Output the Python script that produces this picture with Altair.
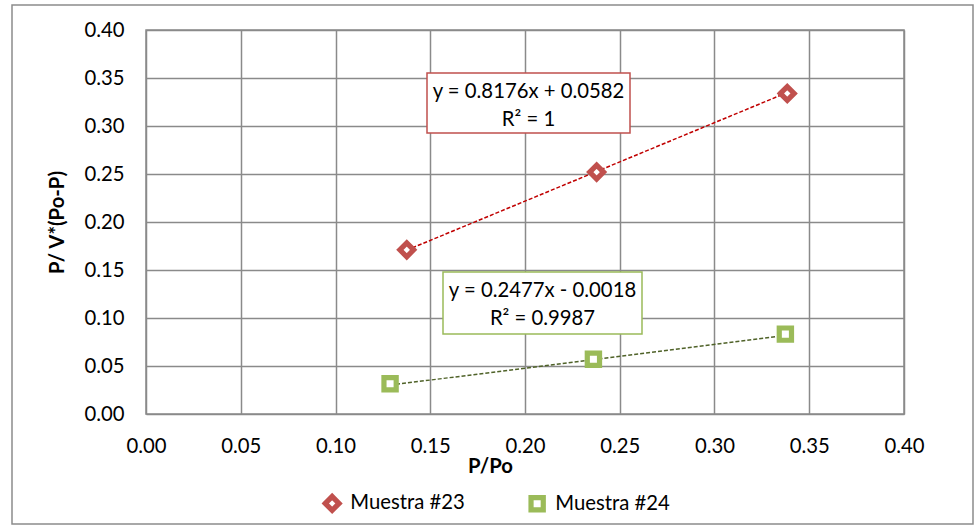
import altair as alt
import pandas as pd

# Measured points (relative pressure vs. BET transform)
series = ["Muestra #23", "Muestra #24"]
pp_23 = [0.1376, 0.2378, 0.3384]
bet_23 = [0.1710, 0.2520, 0.3339]
pp_24 = [0.1288, 0.2361, 0.3374]
bet_24 = [0.0316, 0.0571, 0.0832]

# Linear trendlines (Excel-style)
slopes = [0.8176, 0.2477]
intercepts = [0.0582, -0.0018]
r_squared = [1, 0.9987]

marker_colors = ["#C0504D", "#9BBB59"]
line_colors = ["#C00000", "#4F6228"]
shapes = ["diamond", "square"]
marker_sizes = [190, 150]
tick_values = [0.0, 0.05, 0.10, 0.15, 0.20, 0.25, 0.30, 0.35, 0.40]

FONT = "Lato"
FS = 20.3

points = pd.DataFrame({
    "serie": [series[0]] * len(pp_23) + [series[1]] * len(pp_24),
    "pp": pp_23 + pp_24,
    "bet": bet_23 + bet_24,
})

# Trendline endpoints over each series' x-range, from the fitted coefficients
trend_rows = []
for name, xs, m, b in zip(series, [pp_23, pp_24], slopes, intercepts):
    for xv in (min(xs), max(xs)):
        trend_rows.append({"serie": name, "pp": xv, "bet": m * xv + b})
trend = pd.DataFrame(trend_rows)


def equation(m, b, r2):
    sign = "+" if b >= 0 else "-"
    return f"y = {m:.4f}x {sign} {abs(b):.4f}\nR\u00b2 = {r2:g}"


x_enc = alt.X("pp:Q", scale=alt.Scale(domain=[0, 0.4], nice=False),
              axis=alt.Axis(values=tick_values, format=".2f", title="P/Po",
                            titleX=344, titleY=52, titleBaseline="middle",
                            labelPadding=22, labelFlush=False))
y_enc = alt.Y("bet:Q", scale=alt.Scale(domain=[0, 0.4], nice=False),
              axis=alt.Axis(values=tick_values, format=".2f", title="P/ V*(Po-P)",
                            titleX=-89, titleY=192, titleBaseline="middle",
                            titleAngle=270, labelPadding=22, labelFlush=False))

legend = alt.Legend(title=None, orient="none", legendX=176, legendY=463,
                    direction="horizontal", columnPadding=55,
                    labelFont=FONT, labelFontSize=FS, labelColor="black",
                    symbolStrokeWidth=5.2,
                    symbolFillColor="white", labelOffset=8)

frame = alt.Chart(pd.DataFrame({"k": [0]})).mark_rect(
    fill=None, stroke="#8C8C8C", strokeWidth=1.5
).encode(x=alt.value(-134), x2=alt.value(827), y=alt.value(-25), y2=alt.value(494))

lines = alt.Chart(trend).mark_line(strokeDash=[4, 2], strokeWidth=1.5).encode(
    x=x_enc, y=y_enc,
    color=alt.Color("serie:N", scale=alt.Scale(domain=series, range=line_colors),
                    legend=None),
    detail="serie:N",
)

marks = alt.Chart(points).mark_point(filled=True, fill="white", strokeWidth=5.2,
                                     opacity=1).encode(
    x=x_enc, y=y_enc,
    stroke=alt.Stroke("serie:N", scale=alt.Scale(domain=series, range=marker_colors),
                      legend=legend),
    shape=alt.Shape("serie:N", scale=alt.Scale(domain=series, range=shapes),
                    legend=legend),
    size=alt.Size("serie:N", scale=alt.Scale(domain=series, range=marker_sizes),
                  legend=legend),
)

boxes = []
box_pos = [(281, 484, 43, 103), (297, 496, 242, 304)]
for i, (x0, x1, y0, y1) in enumerate(box_pos):
    d = pd.DataFrame({"label": [equation(slopes[i], intercepts[i], r_squared[i])]})
    rect = alt.Chart(d).mark_rect(fill="white", stroke=marker_colors[i],
                                  strokeWidth=1.5).encode(
        x=alt.value(x0), x2=alt.value(x1), y=alt.value(y0), y2=alt.value(y1))
    txt = alt.Chart(d).mark_text(font=FONT, fontSize=FS, color="black",
                                 lineBreak="\n", lineHeight=28,
                                 align="center", baseline="middle").encode(
        x=alt.value((x0 + x1) / 2), y=alt.value(y0 + 19), text="label:N")
    boxes += [rect, txt]

chart = alt.layer(frame, lines, marks, *boxes).resolve_scale(
    color="independent"
).properties(
    width=758, height=384,
    autosize=alt.AutoSizeParams(type="none"),
    padding={"left": 146, "top": 30, "right": 72, "bottom": 113},
    background="white",
).configure_view(
    stroke="#8A8A8A", strokeWidth=1.5
).configure_axis(
    grid=True, gridColor="#8A8A8A", gridWidth=1.5, domain=False, ticks=False,
    labelFont=FONT, labelFontSize=FS, labelColor="black",
    titleFont=FONT, titleFontSize=FS, titleFontWeight="bold", titleColor="black",
)

chart.save("out.html", embed_options={"renderer": "svg", "actions": False})
